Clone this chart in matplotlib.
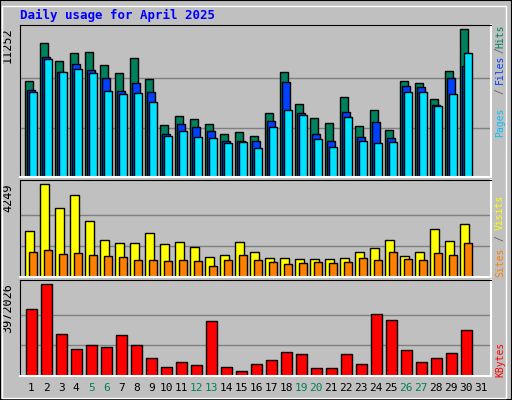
import matplotlib.pyplot as plt
from matplotlib.patches import Rectangle

W, H = 512, 400

days = list(range(1, 32))
hits = [7296, 10184, 8816, 9424, 9500, 8512, 7904, 9044, 7448, 3952, 4636, 4408, 4028, 3268, 3420,
        3116, 4864, 7980, 5548, 4484, 4104, 6080, 3876, 5092, 3572, 7296, 7144, 5928, 8056, 11252, 0]
files = [6612, 9120, 7980, 8588, 8132, 7524, 6536, 7144, 6460, 3268, 4028, 3800, 3496, 2736, 2736,
         2736, 4256, 7220, 4864, 3268, 2736, 4940, 3040, 4180, 2964, 6916, 6840, 5472, 7524, 8436, 0]
pages = [6460, 8968, 7980, 8208, 7904, 6536, 6308, 6384, 5700, 3116, 3496, 3040, 2964, 2584, 2660,
         2204, 3800, 5092, 4712, 2888, 2280, 4560, 2736, 2584, 2660, 6460, 6460, 5396, 6308, 9424, 0]
visits = [2132, 4249, 3145, 3743, 2546, 1718, 1580, 1580, 2040, 1534, 1626, 1396, 936, 1028, 1626,
          1166, 890, 890, 844, 844, 844, 890, 1166, 1350, 1718, 982, 1166, 2224, 1672, 2408, 0]
sites = [1166, 1258, 1074, 1120, 1028, 982, 936, 798, 798, 752, 798, 752, 522, 798, 1028,
         798, 706, 614, 660, 706, 660, 706, 890, 798, 1166, 844, 798, 1120, 1028, 1580, 0]
kbytes = [2884704, 3972026, 1840992, 1188672, 1362624, 1275648, 1797504, 1362624, 797280, 405888,
          623328, 492864, 2406336, 405888, 231936, 536352, 710304, 1058208, 971232, 362400,
          362400, 971232, 536352, 2667264, 2449824, 1145184, 623328, 797280, 1014720, 2014944, 0]
weekends = [5, 6, 12, 13, 19, 20, 26, 27]

BG = '#C0C0C0'
MONO = 'DejaVu Sans Mono'

fig = plt.figure(figsize=(W / 100, H / 100), dpi=100, facecolor=BG)
fig.patches.append(Rectangle((0, 0), 1, 1, transform=fig.transFigure, fill=False,
                             edgecolor='black', linewidth=1.5))
fig.patches.append(Rectangle((2 / W, 2 / H), 1 - 8 / W, 1 - 8 / H, transform=fig.transFigure,
                             fill=False, edgecolor='white', linewidth=1))


def panel(top, bottom, vmax, scale):
    ax = fig.add_axes([20 / W, 1 - bottom / H, 471 / W, (bottom - top) / H])
    ax.set_facecolor(BG)
    ax.set_xlim(0, 31.4)
    ax.set_ylim(0, vmax * scale)
    for v in (vmax / 3, 2 * vmax / 3):
        ax.axhline(v, color='#808080', linewidth=1, zorder=0)
    ax.set_xticks([])
    ax.set_yticks([])
    for s in ('top', 'left'):
        ax.spines[s].set_color('black')
    for s in ('bottom', 'right'):
        ax.spines[s].set_color('white')
        ax.spines[s].set_linewidth(1.5)
    ax.text(-0.013, vmax * 1.01, str(vmax), transform=ax.get_yaxis_transform(), rotation=90,
            ha='right', va='top', fontsize=8.5, family=MONO)
    return ax


def bars(ax, values, offset, width, color):
    x = [d - 1 + offset for d in days]
    ax.bar(x, values, width=width, align='edge', color=color, edgecolor='black', linewidth=1)


def side_label(parts):
    for text, y, color in parts:
        fig.text(500 / W, 1 - y / H, text, rotation=90, ha='center', va='center',
                 fontsize=7, family=MONO, color=color)


ax1 = panel(25, 177, 11252, 1.027)
bars(ax1, hits, 0.35, 0.49, '#00805C')
bars(ax1, files, 0.49, 0.49, '#0040FF')
bars(ax1, pages, 0.62, 0.49, '#00E0FF')

ax2 = panel(180, 277, 4249, 1.047)
bars(ax2, visits, 0.35, 0.56, '#FFFF00')
bars(ax2, sites, 0.62, 0.49, '#FF8000')

ax3 = panel(280, 376, 3972026, 1.048)
bars(ax3, kbytes, 0.42, 0.69, '#FF0000')

for d in days:
    ax3.text(d - 1 + 0.75, -0.13, str(d), transform=ax3.get_xaxis_transform(), ha='center',
             va='center', fontsize=8, family=MONO,
             color='#00805C' if d in weekends else 'black')

side_label([('Hits', 36, '#00805C'), ('/', 50, '#606060'), ('Files', 69, '#0040FF'),
            ('/', 91, '#606060'), ('Pages', 122, '#00C0FF')])
side_label([('Visits', 212, '#FFFF00'), ('/', 238, '#606060'), ('Sites', 262, '#FF8000')])
side_label([('KBytes', 359, '#FF0000')])

fig.text(20 / W, 1 - 15 / H, 'Daily usage for April 2025', ha='left', va='center',
         fontsize=9, family=MONO, weight='bold', color='#0000FF')

fig.savefig('out.png', dpi=100, facecolor=BG)
